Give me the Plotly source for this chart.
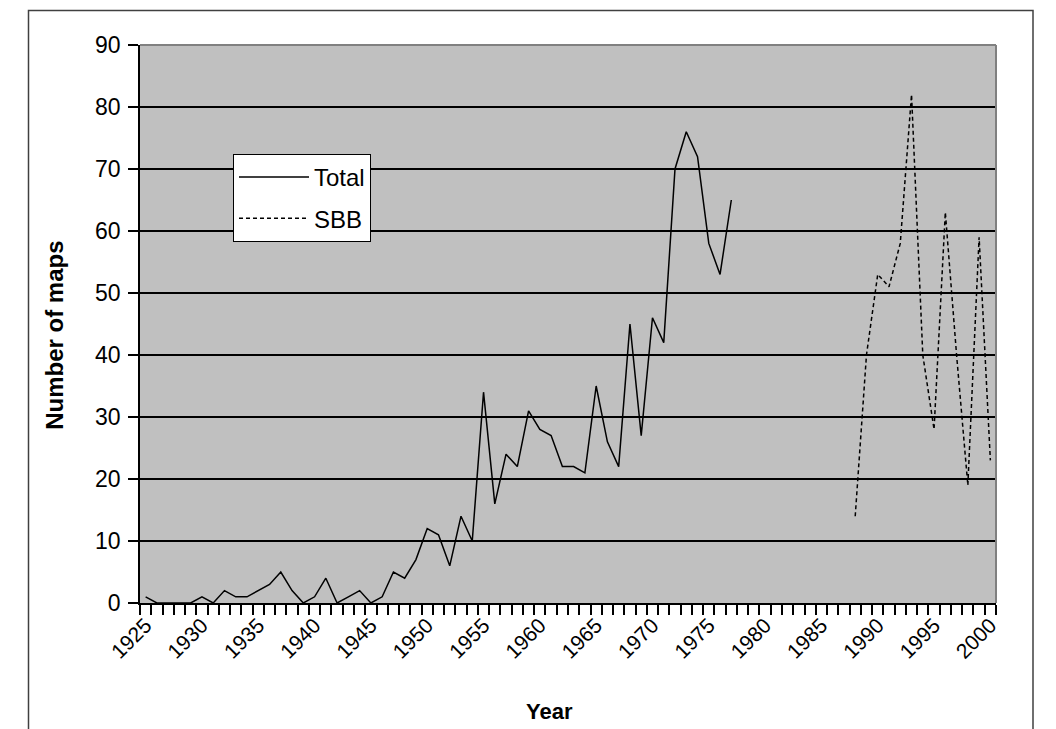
import plotly.graph_objects as go

# ---- data ----
total_years = list(range(1925, 1978))
total_values = [1, 0, 0, 0, 0, 1, 0, 2, 1, 1,
                2, 3, 5, 2, 0, 1, 4, 0, 1, 2,
                0, 1, 5, 4, 7, 12, 11, 6, 14, 10,
                34, 16, 24, 22, 31, 28, 27, 22, 22, 21,
                35, 26, 22, 45, 27, 46, 42, 70, 76, 72,
                58, 53, 65]

sbb_years = list(range(1988, 2001))
sbb_values = [14, 40, 53, 51, 58, 82, 40, 28, 63, 40, 19, 59, 23]

x_tick_labels = list(range(1925, 2001, 5))
y_ticks = list(range(0, 91, 10))

FONT = "Liberation Sans, Arial, sans-serif"

# page has an 8px body margin: the figure's origin sits at (8, 8) on the page
OFF = 8
W, H = 1056 - OFF, 729 - OFF
PLOT_L, PLOT_R, PLOT_T, PLOT_B = 140, 996, 45, 603.3   # page pixels
L = PLOT_L - OFF
T = PLOT_T - OFF
R = W - (PLOT_R - OFF)
B = H - (PLOT_B - OFF)
pw = PLOT_R - PLOT_L
ph = PLOT_B - PLOT_T


def px2paper_x(px):
    return (px - PLOT_L) / pw


def px2paper_y(py):
    return (PLOT_B - py) / ph


fig = go.Figure()
fig.add_trace(go.Scatter(x=total_years, y=total_values, mode="lines", name="Total",
                         legendgroup="a",
                         line=dict(color="black", width=1.5)))
fig.add_trace(go.Scatter(x=sbb_years, y=sbb_values, mode="lines", name="SBB",
                         legendgroup="b",
                         line=dict(color="black", width=1.5, dash="4px,3px")))

fig.update_layout(
    width=W, height=H,
    margin=dict(l=L, r=R, t=T, b=B, autoexpand=False),
    paper_bgcolor="white",
    plot_bgcolor="#C0C0C0",
    font=dict(family=FONT, color="black", size=21),
    showlegend=True,
    legend=dict(
        x=px2paper_x(233), y=px2paper_y(154), xanchor="left", yanchor="top",
        bgcolor="white", bordercolor="black", borderwidth=1,
        font=dict(size=24, family=FONT),
        itemwidth=70, tracegroupgap=7,
    ),
    xaxis=dict(
        range=[1924.5, 2000.5],
        tickmode="array", tickvals=x_tick_labels,
        ticktext=[str(v) for v in x_tick_labels],
        ticks="", tickangle=-45,
        tickfont=dict(size=21, family=FONT),
        showgrid=False, zeroline=False,
        showline=True, linecolor="black", linewidth=1.5,
        minor=dict(tick0=1924.5, dtick=1, ticks="outside", ticklen=10,
                   tickcolor="black", tickwidth=1.5, showgrid=False),
    ),
    yaxis=dict(
        range=[0, 90],
        tickmode="array", tickvals=y_ticks,
        ticks="outside", ticklen=10, tickcolor="black", tickwidth=1.5,
        tickfont=dict(size=23, family=FONT),
        ticklabelstandoff=3,
        showgrid=True, gridcolor="black", gridwidth=1.5,
        zeroline=False,
        showline=True, linecolor="black", linewidth=1.5,
    ),
    annotations=[
        dict(text="<b>Number of maps</b>", textangle=-90,
             xref="paper", yref="paper",
             x=px2paper_x(55), y=px2paper_y(336),
             xanchor="center", yanchor="middle", showarrow=False,
             font=dict(size=24, family=FONT)),
        dict(text="<b>Year</b>",
             xref="paper", yref="paper",
             x=px2paper_x(549), y=px2paper_y(712),
             xanchor="center", yanchor="middle", showarrow=False,
             font=dict(size=22, family=FONT)),
    ],
    shapes=[
        # gray top and right edges of the plot area
        dict(type="line", xref="paper", yref="paper", x0=0, x1=1, y0=1, y1=1,
             line=dict(color="#808080", width=2), layer="above"),
        dict(type="line", xref="paper", yref="paper", x0=1, x1=1, y0=0, y1=1,
             line=dict(color="#808080", width=2), layer="above"),
        # outer chart frame
        dict(type="rect", xref="paper", yref="paper",
             x0=px2paper_x(28.5), x1=px2paper_x(1033),
             y0=px2paper_y(745), y1=px2paper_y(10.5),
             line=dict(color="#404040", width=1.5), fillcolor="rgba(0,0,0,0)"),
    ],
)

fig.write_html("out.html")
